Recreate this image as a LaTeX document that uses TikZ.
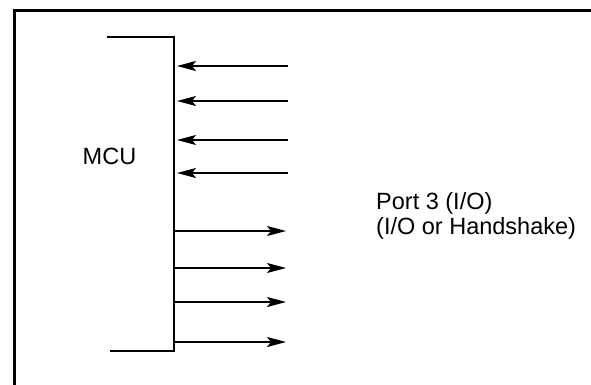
\documentclass[tikz,border=0pt]{standalone}
\usepackage{fontspec}
\setmainfont{Liberation Sans}
\usetikzlibrary{arrows.meta}
\begin{document}
\begin{tikzpicture}[x=1pt,y=-1pt,
  frameline/.style={line width=3pt},
  bracketline/.style={line width=1.8pt},
  sig/.style={line width=1.6pt,-{Stealth[length=19pt,width=10pt,inset=4pt]}},
  lbl/.style={font=\fontsize{23.5}{23.5}\selectfont,inner sep=0pt}]
\useasboundingbox (0,0) rectangle (591,385);
% frame (cut by picture edge)
\draw[frameline] (14,390) -- (14,11) -- (600,11);
% MCU bracket
\coordinate (bt) at (107,37);
\coordinate (tr) at (174,37);
\coordinate (br) at (174,351);
\coordinate (bb) at (110,351);
\draw[bracketline] (bt) -- (tr) -- (br) -- (bb);
\node[lbl,anchor=base] (mcu) at (109.5,164.3) {MCU};
% inputs
\foreach \i/\y in {1/66,2/101,3/140,4/173}{
  \coordinate (is\i) at (288,\y);
  \coordinate (ie\i) at (177,\y);
  \draw[sig] (is\i) -- (ie\i);
}
% outputs
\foreach \i/\y in {1/231,2/268,3/302,4/342}{
  \coordinate (os\i) at (175,\y);
  \coordinate (oe\i) at (286,\y);
  \draw[sig] (os\i) -- (oe\i);
}
\node[lbl,anchor=base west] (port1) at (376,209.5) {Port 3 (I/O)};
\node[lbl,anchor=base west] (port2) at (376,234.5) {(I/O or Handshake)};
\end{tikzpicture}
\end{document}
